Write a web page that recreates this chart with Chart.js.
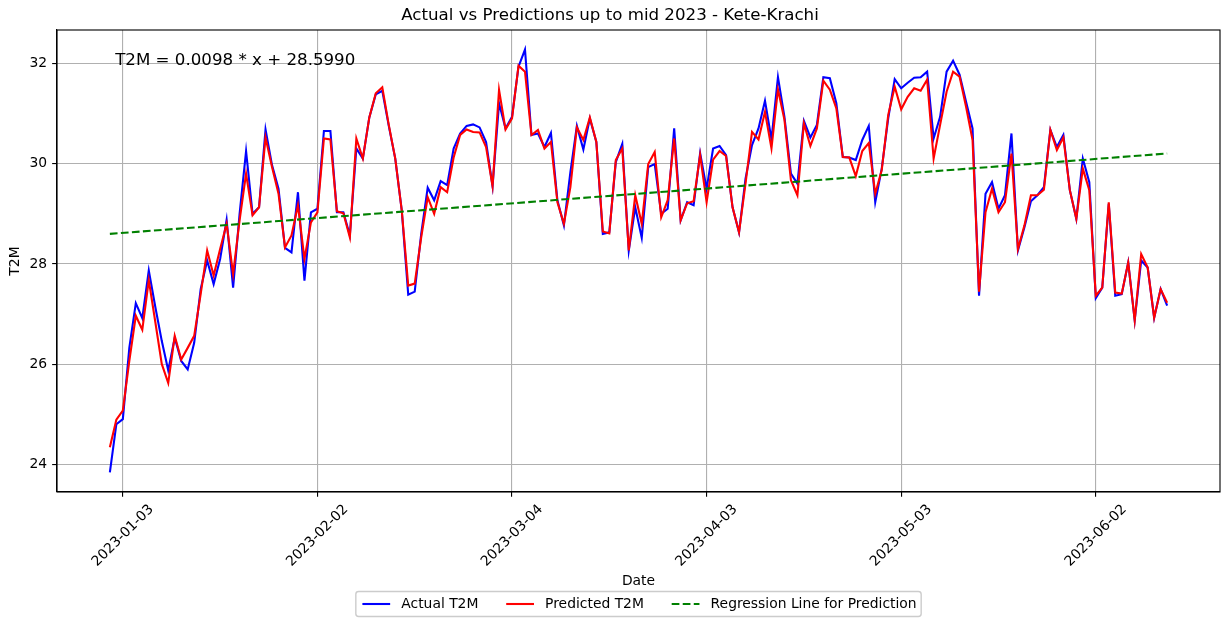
<!DOCTYPE html>
<html>
<head>
<meta charset="utf-8">
<script src="https://cdn.jsdelivr.net/npm/chart.js@4.4.1/dist/chart.umd.min.js"></script>
<style>
html,body{margin:0;padding:0;background:#fff;}
canvas{display:block;}
</style>
</head>
<body>
<canvas id="c" width="1229" height="626"></canvas>
<script>
// ---------------- data ----------------
const startDate = '2023-01-01';

const actualT2M = [
  // Jan
  23.85,24.81,24.91,26.33,27.22,26.92,27.87,27.15,26.47,25.88,26.53,26.07,25.90,26.43,27.50,28.07,
  27.60,28.10,28.88,27.53,29.00,30.25,29.00,29.13,30.68,29.97,29.50,28.32,28.23,29.43,27.67,
  // Feb
  29.03,29.10,30.65,30.65,29.03,29.03,28.57,30.30,30.10,30.92,31.38,31.45,30.75,30.10,29.07,27.39,
  27.45,28.60,29.52,29.27,29.65,29.57,30.30,30.60,30.75,30.78,30.72,30.43,
  // Mar
  29.55,31.20,30.70,30.93,31.93,32.27,30.57,30.60,30.33,30.61,29.27,28.77,29.83,30.75,30.28,30.90,
  30.43,28.60,28.63,30.03,30.39,28.27,29.13,28.52,29.93,29.99,29.00,29.10,30.70,28.87,29.23,
  // Apr
  29.17,30.21,29.50,30.30,30.35,30.17,29.13,28.63,29.70,30.37,30.70,31.25,30.48,31.72,30.93,29.80,
  29.60,30.85,30.52,30.77,31.72,31.70,31.20,30.13,30.12,30.07,30.47,30.75,29.23,29.90,
  // May
  30.90,31.68,31.50,31.61,31.71,31.72,31.83,30.50,30.93,31.83,32.05,31.77,31.23,30.70,27.37,29.40,
  29.63,29.10,29.37,30.60,28.27,28.73,29.25,29.37,29.53,30.67,30.33,30.57,29.47,28.90,30.10,
  // Jun
  29.63,27.32,27.53,29.20,27.37,27.40,28.03,26.88,28.07,27.93,26.93,27.50,27.17
];

const predictedT2M = [
  // Jan
  24.35,24.90,25.08,26.07,26.97,26.69,27.68,26.85,26.01,25.63,26.57,26.10,26.33,26.57,27.40,28.27,
  27.77,28.30,28.80,27.80,28.87,29.80,28.97,29.13,30.52,29.93,29.40,28.33,28.57,29.17,28.10,
  // Feb
  28.83,29.03,30.50,30.48,29.05,29.01,28.53,30.50,30.10,30.92,31.40,31.52,30.77,30.10,29.07,27.57,
  27.61,28.53,29.33,29.00,29.53,29.43,30.12,30.57,30.68,30.63,30.62,30.33,
  // Mar
  29.55,31.47,30.68,30.90,31.95,31.83,30.57,30.67,30.30,30.43,29.23,28.80,29.53,30.72,30.47,30.92,
  30.43,28.65,28.61,30.07,30.30,28.27,29.37,28.80,29.99,30.23,28.93,29.27,30.50,28.87,29.21,
  // Apr
  29.25,30.17,29.23,30.08,30.25,30.15,29.13,28.63,29.60,30.63,30.48,31.03,30.30,31.48,30.87,29.67,
  29.37,30.80,30.35,30.70,31.65,31.47,31.10,30.13,30.12,29.75,30.25,30.41,29.40,29.87,
  // May
  30.97,31.53,31.08,31.33,31.50,31.45,31.67,30.10,30.77,31.43,31.83,31.73,31.13,30.47,27.45,29.03,
  29.50,29.03,29.23,30.20,28.30,28.77,29.37,29.37,29.48,30.67,30.27,30.52,29.47,28.90,29.90,
  // Jun
  29.47,27.37,27.53,29.23,27.43,27.41,28.03,26.88,28.20,27.93,26.93,27.50,27.23
];

// regression line end values (first and last day)
const regressionEnds = [28.60, 30.20];

const xTickLabels = ['2023-01-03','2023-02-02','2023-03-04','2023-04-03','2023-05-03','2023-06-02'];
const yTickValues = [24, 26, 28, 30, 32];

const seriesLabels = ['Actual T2M', 'Predicted T2M', 'Regression Line for Prediction'];
const titleText = 'Actual vs Predictions up to mid 2023 - Kete-Krachi';
const equationText = 'T2M = 0.0098 * x + 28.5990';

// ---------------- derived ----------------
const dates = actualT2M.map((_, i) => {
  const d = new Date(startDate + 'T00:00:00Z');
  d.setUTCDate(d.getUTCDate() + i);
  return d.toISOString().slice(0, 10);
});
const xTickIdx = xTickLabels.map(l => dates.indexOf(l));
const lastIdx = dates.length - 1;
const xPad = lastIdx * 0.05;

const FONT = "'DejaVu Sans', 'Liberation Sans', sans-serif";
Chart.defaults.font.family = FONT;
Chart.defaults.color = '#000';

const PX = 100 / 72; // points to px at 100 dpi
const LW = 1.5 * PX;

const overlayPlugin = {
  id: 'mplOverlay',
  afterDatasetsDraw(chart) {
    const {ctx, chartArea: a} = chart;
    ctx.save();
    // spines
    ctx.strokeStyle = '#000';
    ctx.lineWidth = 0.8 * PX;
    ctx.strokeRect(a.left, a.top, a.right - a.left, a.bottom - a.top);
    // equation text
    ctx.fillStyle = '#000';
    ctx.font = (12 * PX) + 'px ' + FONT;
    ctx.textBaseline = 'alphabetic';
    ctx.textAlign = 'left';
    ctx.fillText(equationText, a.left + 0.05 * (a.right - a.left), a.top + 0.05 * (a.bottom - a.top) + 12);
    ctx.restore();
  },
  afterDraw(chart) {
    const {ctx, chartArea: a} = chart;
    const fs = 10 * PX;
    ctx.save();
    ctx.font = fs + 'px ' + FONT;
    const handle = 2 * fs, textPad = 0.8 * fs, colSp = 2 * fs, pad = 0.4 * fs;
    const items = chart.data.datasets.map(d => ({
      label: d.label, color: d.borderColor, dash: d.borderDash || [], w: ctx.measureText(d.label).width
    }));
    const total = pad * 2 + items.reduce((s, it) => s + handle + textPad + it.w, 0) + colSp * (items.length - 1);
    const cx = (a.left + a.right) / 2;
    const x0 = cx - total / 2, y0 = 591.5, h = 25, r = 2.8;
    ctx.beginPath();
    ctx.moveTo(x0 + r, y0);
    ctx.lineTo(x0 + total - r, y0);
    ctx.quadraticCurveTo(x0 + total, y0, x0 + total, y0 + r);
    ctx.lineTo(x0 + total, y0 + h - r);
    ctx.quadraticCurveTo(x0 + total, y0 + h, x0 + total - r, y0 + h);
    ctx.lineTo(x0 + r, y0 + h);
    ctx.quadraticCurveTo(x0, y0 + h, x0, y0 + h - r);
    ctx.lineTo(x0, y0 + r);
    ctx.quadraticCurveTo(x0, y0, x0 + r, y0);
    ctx.closePath();
    ctx.fillStyle = 'rgba(255,255,255,0.8)';
    ctx.fill();
    ctx.strokeStyle = '#cccccc';
    ctx.lineWidth = 1 * PX;
    ctx.stroke();
    let x = x0 + pad + 1;
    const cy = y0 + h / 2;
    items.forEach(it => {
      ctx.beginPath();
      ctx.setLineDash(it.dash);
      ctx.strokeStyle = it.color;
      ctx.lineWidth = LW;
      ctx.moveTo(x, cy);
      ctx.lineTo(x + handle, cy);
      ctx.stroke();
      ctx.setLineDash([]);
      ctx.fillStyle = '#000';
      ctx.textBaseline = 'middle';
      ctx.textAlign = 'left';
      ctx.fillText(it.label, x + handle + textPad, cy);
      x += handle + textPad + it.w + colSp;
    });
    ctx.restore();
  }
};

const gridOpts = {color: '#b0b0b0', lineWidth: 0.8 * PX, tickColor: '#000', tickWidth: 0.8 * PX, tickLength: 3.5 * PX};
const borderOpts = {display: true, color: '#000', width: 0.8 * PX};

new Chart(document.getElementById('c'), {
  type: 'line',
  data: {
    datasets: [
      {
        label: seriesLabels[0],
        data: actualT2M.map((v, i) => ({x: i, y: v})),
        borderColor: '#0000ff', backgroundColor: '#0000ff',
        borderWidth: LW, pointRadius: 0, tension: 0, fill: false, order: 3
      },
      {
        label: seriesLabels[1],
        data: predictedT2M.map((v, i) => ({x: i, y: v})),
        borderColor: '#ff0000', backgroundColor: '#ff0000',
        borderWidth: LW, pointRadius: 0, tension: 0, fill: false, order: 2
      },
      {
        label: seriesLabels[2],
        data: [{x: 0, y: regressionEnds[0]}, {x: lastIdx, y: regressionEnds[1]}],
        borderColor: '#008000', backgroundColor: '#008000',
        borderWidth: LW, borderDash: [3.7 * LW, 1.6 * LW], borderCapStyle: 'butt',
        pointRadius: 0, tension: 0, fill: false, order: 1
      }
    ]
  },
  options: {
    responsive: false,
    animation: false,
    events: [],
    layout: {padding: {left: 0, right: 9, top: 0, bottom: 0}},
    plugins: {
      legend: {display: false},
      tooltip: {enabled: false},
      title: {
        display: true, text: titleText, color: '#000',
        font: {size: 12 * PX, weight: 'normal', family: FONT},
        padding: {top: 6, bottom: 4}
      }
    },
    scales: {
      x: {
        type: 'linear',
        min: -xPad, max: lastIdx + xPad,
        afterBuildTicks: s => { s.ticks = xTickIdx.map(v => ({value: v})); },
        afterFit: s => { s.height = 134; },
        ticks: {
          autoSkip: false, minRotation: 45, maxRotation: 45,
          labelOffset: 28.6, padding: 4.5, color: '#000',
          font: {size: 10 * PX},
          callback: (v, i) => xTickLabels[i]
        },
        grid: gridOpts,
        border: borderOpts,
        title: {display: true, text: 'Date', color: '#000', font: {size: 10 * PX}, padding: {top: 0, bottom: 36}}
      },
      y: {
        min: 23.46, max: 32.66,
        afterBuildTicks: s => { s.ticks = yTickValues.map(v => ({value: v})); },
        afterFit: s => { s.width = 57; },
        ticks: {padding: 5, color: '#000', font: {size: 10 * PX}, callback: v => String(v)},
        grid: gridOpts,
        border: borderOpts,
        title: {display: true, text: 'T2M', color: '#000', font: {size: 10 * PX}, padding: {top: 6.7, bottom: 0}}
      }
    }
  },
  plugins: [overlayPlugin]
});
</script>
</body>
</html>
